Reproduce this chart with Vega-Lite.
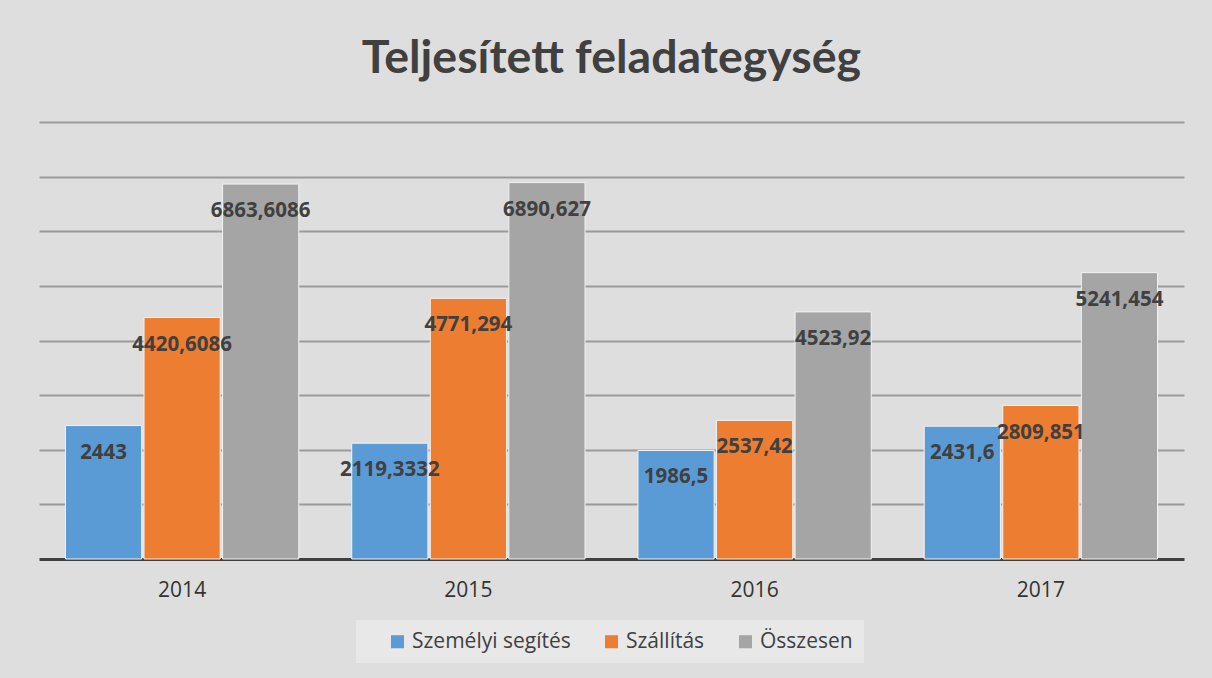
{
  "$schema": "https://vega.github.io/schema/vega-lite/v6.json",
  "autosize": {"type": "none"},
  "width": 1145,
  "height": 437,
  "padding": {"left": 39, "top": 122, "right": 28, "bottom": 119},
  "background": "#dedede",
  "title": {
    "text": "Teljesített feladategység",
    "font": "Lato",
    "fontSize": 46.5,
    "fontWeight": "bold",
    "color": "#404040",
    "anchor": "middle",
    "baseline": "alphabetic",
    "offset": 3
  },
  "data": {
    "values": [
      {"year": "2014", "series": "Személyi segítés", "value": 2443, "label": "2443"},
      {"year": "2014", "series": "Szállítás", "value": 4420.6086, "label": "4420,6086"},
      {"year": "2014", "series": "Összesen", "value": 6863.6086, "label": "6863,6086"},
      {"year": "2015", "series": "Személyi segítés", "value": 2119.3332, "label": "2119,3332"},
      {"year": "2015", "series": "Szállítás", "value": 4771.294, "label": "4771,294"},
      {"year": "2015", "series": "Összesen", "value": 6890.627, "label": "6890,627"},
      {"year": "2016", "series": "Személyi segítés", "value": 1986.5, "label": "1986,5"},
      {"year": "2016", "series": "Szállítás", "value": 2537.42, "label": "2537,42"},
      {"year": "2016", "series": "Összesen", "value": 4523.92, "label": "4523,92"},
      {"year": "2017", "series": "Személyi segítés", "value": 2431.6, "label": "2431,6"},
      {"year": "2017", "series": "Szállítás", "value": 2809.851, "label": "2809,851"},
      {"year": "2017", "series": "Összesen", "value": 5241.454, "label": "5241,454"}
    ]
  },
  "encoding": {
    "x": {
      "field": "year",
      "type": "nominal",
      "scale": {"paddingInner": 0.185, "paddingOuter": 0.0925},
      "axis": {
        "title": null,
        "labelAngle": 0,
        "labelFont": "Open Sans",
        "labelFontSize": 21,
        "labelColor": "#333333",
        "labelPadding": 20,
        "ticks": false,
        "tickSize": 0,
        "domainColor": "#404040",
        "domainWidth": 3,
        "grid": false
      }
    },
    "xOffset": {
      "field": "series",
      "type": "nominal",
      "scale": {"domain": ["Személyi segítés", "Szállítás", "Összesen"], "paddingInner": 0.03}
    },
    "y": {
      "field": "value",
      "type": "quantitative",
      "scale": {"domain": [0, 8000], "nice": false},
      "axis": {
        "title": null,
        "labels": false,
        "ticks": false,
        "domain": false,
        "values": [1000, 2000, 3000, 4000, 5000, 6000, 7000, 8000],
        "gridColor": "#9a9a9a",
        "gridWidth": 2
      }
    }
  },
  "layer": [
    {
      "mark": {"type": "bar", "stroke": "#f2f2f2", "strokeWidth": 1},
      "encoding": {
        "color": {
          "field": "series",
          "type": "nominal",
          "scale": {
            "domain": ["Személyi segítés", "Szállítás", "Összesen"],
            "range": ["#5b9bd5", "#ed7d31", "#a5a5a5"]
          },
          "legend": {
            "title": null,
            "orient": "none",
            "legendX": 317,
            "legendY": 498,
            "direction": "horizontal",
            "symbolType": "square",
            "symbolSize": 170,
            "symbolStrokeWidth": 0,
            "symbolOffset": 20,
            "labelFont": "Open Sans",
            "labelFontSize": 21,
            "labelLimit": 400,
            "labelColor": "#404040",
            "labelOffset": 4,
            "columnPadding": 10,
            "fillColor": "#e8e8e8",
            "padding": 11
          }
        }
      }
    },
    {
      "mark": {
        "type": "text",
        "baseline": "middle",
        "align": "center",
        "dy": 27,
        "font": "Open Sans",
        "fontSize": 20.5,
        "fontWeight": "bold",
        "color": "#404040"
      },
      "encoding": {
        "text": {"field": "label"}
      }
    }
  ],
  "config": {"view": {"stroke": null}}
}
